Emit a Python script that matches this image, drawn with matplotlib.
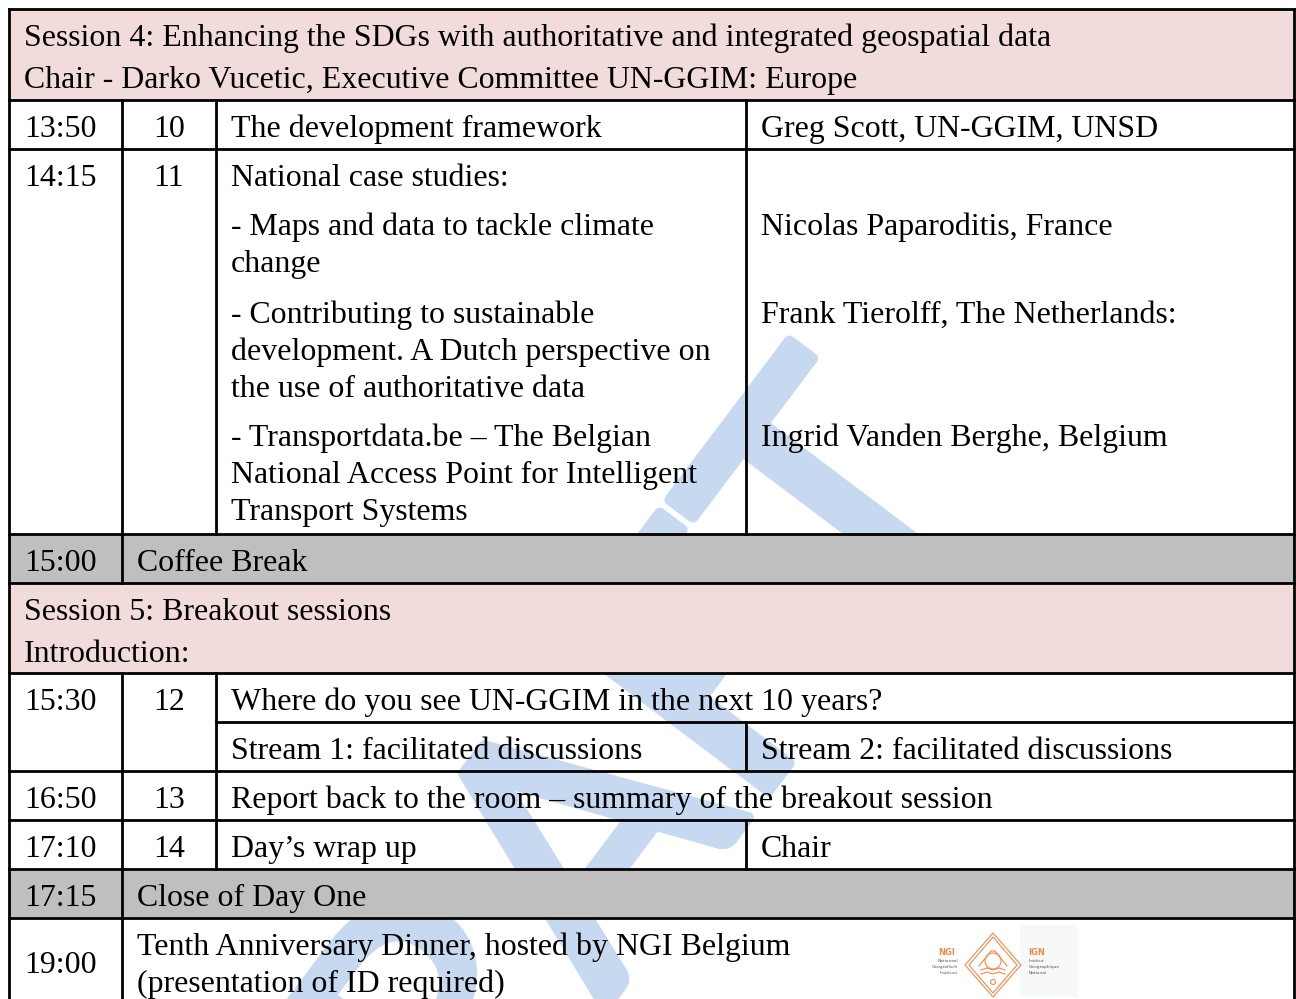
import matplotlib.pyplot as plt
from matplotlib.patches import Rectangle, Polygon, Circle
import matplotlib.patheffects as pe

# programme text
session_headers = [
    ["Session 4: Enhancing the SDGs with authoritative and integrated geospatial data",
     "Chair - Darko Vucetic, Executive Committee UN-GGIM: Europe"],
    ["Session 5: Breakout sessions", "Introduction:"],
]
slot_times = ["13:50", "14:15", "15:30", "16:50", "17:10"]
slot_numbers = ["10", "11", "12", "13", "14"]
slot_titles = [
    "The development framework",
    "National case studies:",
    "Where do you see UN-GGIM in the next 10 years?",
    "Report back to the room \u2013 summary of the breakout session",
    "Day\u2019s wrap up",
]
slot_speakers = ["Greg Scott, UN-GGIM, UNSD", "", "", "", "Chair"]
case_studies = [
    ["- Maps and data to tackle climate", "change"],
    ["- Contributing to sustainable", "development. A Dutch perspective on",
     "the use of authoritative data"],
    ["- Transportdata.be \u2013 The Belgian", "National Access Point for Intelligent",
     "Transport Systems"],
]
case_speakers = ["Nicolas Paparoditis, France", "Frank Tierolff, The Netherlands:",
                 "Ingrid Vanden Berghe, Belgium"]
streams = ["Stream 1: facilitated discussions", "Stream 2: facilitated discussions"]
break_times = ["15:00", "17:15"]
break_labels = ["Coffee Break", "Close of Day One"]
dinner_time = "19:00"
dinner_lines = ["Tenth Anniversary Dinner, hosted by NGI Belgium", "(presentation of ID required)"]

PINK = "#f2dcdb"
GRAY = "#bfbfbf"
BLUE = "#c6d9f1"
ORANGE = "#f08a4b"
SERIF = "Liberation Serif"

W, H = 1296, 999
fig = plt.figure(figsize=(W / 100, H / 100), dpi=100)
ax = fig.add_axes([0, 0, 1, 1])
ax.set_xlim(0, W)
ax.set_ylim(H, 0)
ax.axis("off")

# size the serif font so the first header line has the width seen on the page
renderer = fig.canvas.get_renderer()
probe = ax.text(0, 0, session_headers[0][0], fontsize=20, family=SERIF)
FS = 20 * 1029 / probe.get_window_extent(renderer).width
probe.remove()

# column edges and spacing
cx = [9, 122, 216, 746, 1294]
pad = 15
step = 37
num_x = (cx[1] + cx[2]) / 2


def txt(x, y, s, **kw):
    ax.text(x, y, s, fontsize=FS, family=SERIF, va="baseline", zorder=5, **kw)


# watermark sits under the shaded cells
wm = ax.text(995, 490, "DRAFT", fontsize=255, family="Lato", color=BLUE,
             rotation=53, rotation_mode="anchor", ha="right", va="baseline", zorder=0)
wm.set_path_effects([pe.withStroke(linewidth=8, foreground=BLUE, joinstyle="round")])

# shaded rows
for y0, y1, c in [(9, 100, PINK), (534, 583, GRAY), (583, 673, PINK), (869, 918, GRAY)]:
    ax.add_patch(Rectangle((cx[0], y0), cx[4] - cx[0], y1 - y0, color=c, zorder=1, lw=0))

# grid lines
lw = 2
for y in [9, 100, 149, 534, 583, 673, 771, 820, 869, 918]:
    ax.plot([cx[0], cx[4]], [y, y], color="black", lw=lw, zorder=4, solid_capstyle="projecting")
ax.plot([cx[2], cx[4]], [722, 722], color="black", lw=lw, zorder=4)
for x, y0, y1 in [(cx[0], 9, 1010), (cx[4], 9, 1010),
                  (cx[1], 100, 583), (cx[1], 673, 1010),
                  (cx[2], 100, 534), (cx[2], 673, 869),
                  (cx[3], 100, 534), (cx[3], 722, 771), (cx[3], 820, 869)]:
    ax.plot([x, x], [y0, y1], color="black", lw=lw, zorder=4)

# session 4 header
txt(cx[0] + pad, 46, session_headers[0][0])
txt(cx[0] + pad, 88, session_headers[0][1])

# numbered slots
row_base = {"13:50": 137, "14:15": 186, "15:30": 710, "16:50": 808, "17:10": 857}
for t, n, title, spk in zip(slot_times, slot_numbers, slot_titles, slot_speakers):
    y = row_base[t]
    txt(cx[0] + pad, y, t)
    txt(num_x, y, n, ha="center")
    txt(cx[2] + pad, y, title)
    if spk:
        txt(cx[3] + pad, y, spk)

# national case studies
case_base = [235, 323, 446]
for lines, spk, y in zip(case_studies, case_speakers, case_base):
    for i, line in enumerate(lines):
        txt(cx[2] + pad, y + i * step, line)
    txt(cx[3] + pad, y, spk)

# breaks
for t, label, y in zip(break_times, break_labels, [571, 906]):
    txt(cx[0] + pad, y, t)
    txt(cx[1] + pad, y, label)

# session 5 header
txt(cx[0] + pad, 620, session_headers[1][0])
txt(cx[0] + pad, 662, session_headers[1][1])

# breakout streams
txt(cx[2] + pad, 759, streams[0])
txt(cx[3] + pad, 759, streams[1])

# dinner
txt(cx[0] + pad, 973, dinner_time)
txt(cx[1] + pad, 955, dinner_lines[0])
txt(cx[1] + pad, 992, dinner_lines[1])

# NGI / IGN logo
ax.add_patch(Rectangle((1020, 925), 58, 72, color="#f7f8f8", lw=0, zorder=2))
lc, ly = 993, 965
for d in [0, 4]:
    ax.add_patch(Polygon([(lc, ly - 32 + d), (lc + 28 - d, ly), (lc, ly + 32 - d), (lc - 28 + d, ly)],
                         closed=True, fill=False, ec=ORANGE, lw=0.8, zorder=3))
ax.add_patch(Circle((lc, ly - 4), 8, fill=False, ec=ORANGE, lw=0.8, zorder=3))
ax.add_patch(Circle((lc, ly + 17), 2.5, fill=False, ec=ORANGE, lw=0.8, zorder=3))
for dy in [5, 9]:
    ax.plot([lc - 12, lc - 6, lc, lc + 6, lc + 12], [ly + dy, ly + dy - 2, ly + dy, ly + dy - 2, ly + dy],
            color=ORANGE, lw=0.8, zorder=3)
ax.plot([lc - 14, lc - 2, lc + 2, lc + 14], [ly + 1, ly - 14, ly - 14, ly + 1], color=ORANGE, lw=0.8, zorder=3)
ax.text(955, 955, "NGI", fontsize=6, weight="bold", color=ORANGE, ha="right", va="baseline",
        family="DejaVu Sans", zorder=3)
ax.text(1028, 955, "IGN", fontsize=6, weight="bold", color=ORANGE, ha="left", va="baseline",
        family="DejaVu Sans", zorder=3)
for i, (l, r) in enumerate(zip(["Nationaal", "Geografisch", "Instituut"],
                               ["Institut", "G\u00e9ographique", "National"])):
    ax.text(958, 962 + 6 * i, l, fontsize=3.2, color="#555555", ha="right", va="baseline",
            family="DejaVu Sans", zorder=3)
    ax.text(1029, 962 + 6 * i, r, fontsize=3.2, color="#555555", ha="left", va="baseline",
            family="DejaVu Sans", zorder=3)

fig.savefig("out.png", dpi=100, facecolor="white")
